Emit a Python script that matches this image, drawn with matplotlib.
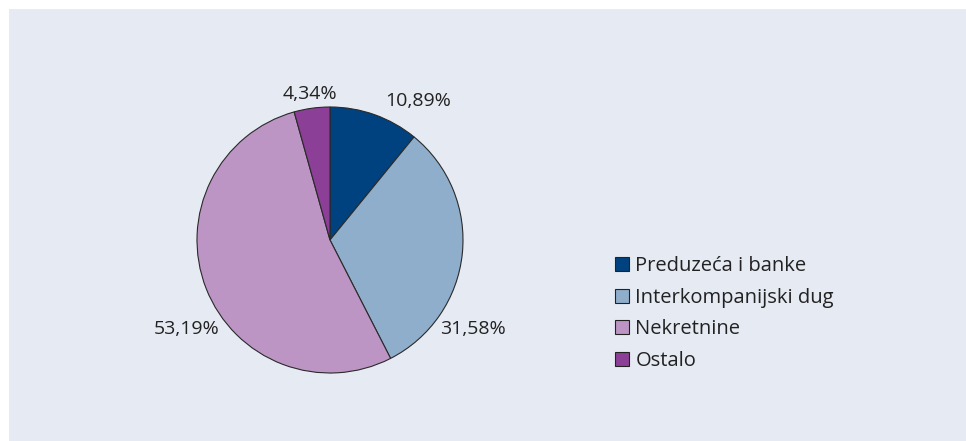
import matplotlib.pyplot as plt
from matplotlib.patches import Rectangle

plt.rcParams['font.family'] = ['Open Sans', 'DejaVu Sans']

categories = ['Preduzeća i banke', 'Interkompanijski dug', 'Nekretnine', 'Ostalo']
values = [10.89, 31.58, 53.19, 4.34]
colors = ['#00427f', '#8eaecb', '#bc95c5', '#8c3f96']
# label positions relative to pie centre, in pie radii
label_pos = [(0.66, 1.045), (1.075, -0.67), (-1.075, -0.67), (-0.15, 1.10)]

fig = plt.figure(figsize=(9.66, 4.41), dpi=100)
fig.patch.set_facecolor('white')
fig.patches.append(Rectangle((9 / 966, 0), 1, (441 - 9) / 441, transform=fig.transFigure,
                             facecolor='#e6eaf3', edgecolor='none', zorder=-10))

ax = fig.add_axes([(330 - 133) / 966, (441 - 240 - 133) / 441, 266 / 966, 266 / 441])
wedges, _ = ax.pie(values, colors=colors, startangle=90, counterclock=False,
                   wedgeprops=dict(edgecolor='#2a2a2a', linewidth=0.8))
ax.set_xlim(-1, 1)
ax.set_ylim(-1, 1)
ax.set_aspect('equal')
ax.axis('off')

for v, (x, y) in zip(values, label_pos):
    ax.text(x, y, f'{v:.2f}%'.replace('.', ','), ha='center', va='center',
            fontsize=14, color='#222222')

handles = [Rectangle((0, 0), 1, 1, facecolor=c, edgecolor='#222222', linewidth=0.8) for c in colors]
fig.legend(handles, categories, loc='upper left', bbox_to_anchor=(597 / 966, 1 - 238 / 441),
           frameon=False, fontsize=14.5, handlelength=0.7, handleheight=0.7,
           handletextpad=0.3, labelspacing=0.58, labelcolor='#222222')

fig.savefig('out.png', dpi=100, facecolor='white')
